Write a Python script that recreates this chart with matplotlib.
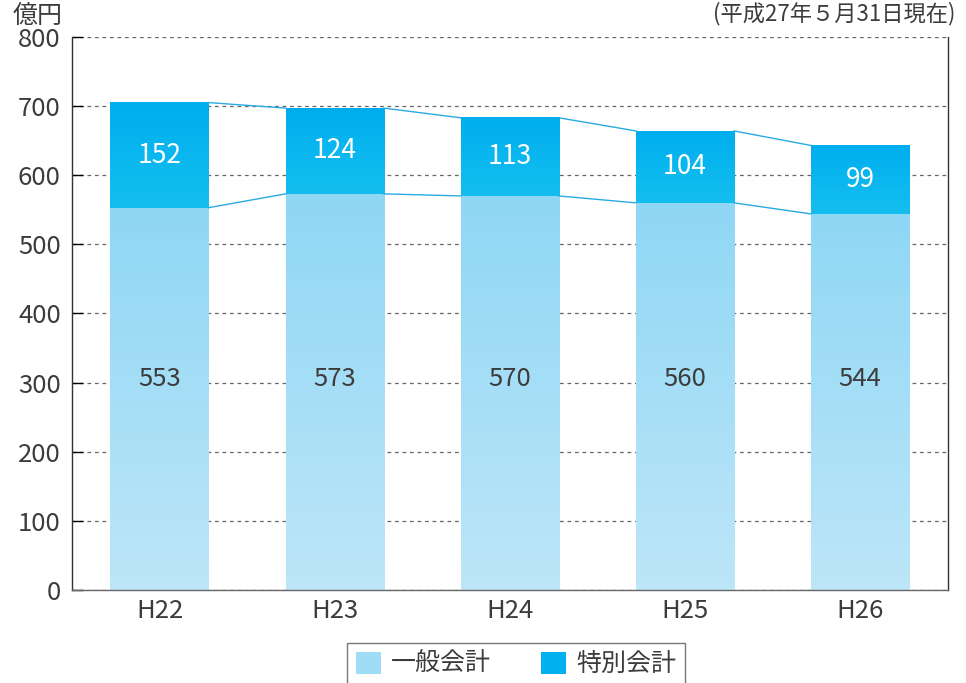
import numpy as np
import matplotlib.pyplot as plt
from matplotlib.colors import LinearSegmentedColormap
from matplotlib.patches import Patch

plt.rcParams['font.family'] = ['Noto Sans CJK JP', 'DejaVu Sans']

years = ['H22', 'H23', 'H24', 'H25', 'H26']
general = [553, 573, 570, 560, 544]
special = [152, 124, 113, 104, 99]

BAR_W = 0.56
TEXT = '#3c3c3c'
LINE = '#29abe2'

fig = plt.figure(figsize=(9.66, 6.83), dpi=100)
ax = fig.add_axes([0.0745, 0.136, 0.9065, 0.81])

x = np.arange(len(years))

# gradient fills for each segment
cm_gen = LinearSegmentedColormap.from_list('gen', ['#bde6f8', '#8fd7f5'])
cm_sp = LinearSegmentedColormap.from_list('sp', ['#14bfee', '#00aeef'])
grad = np.linspace(0, 1, 256).reshape(-1, 1)

for i, (g, s) in enumerate(zip(general, special)):
    x0, x1 = x[i] - BAR_W / 2, x[i] + BAR_W / 2
    ax.imshow(grad, cmap=cm_gen, extent=(x0, x1, 0, g), origin='lower',
              aspect='auto', zorder=2)
    ax.imshow(grad, cmap=cm_sp, extent=(x0, x1, g, g + s), origin='lower',
              aspect='auto', zorder=2)
    ax.text(x[i], 305, str(g), ha='center', va='center', fontsize=18.5,
            color=TEXT, zorder=3)
    ax.text(x[i], g + s / 2, str(s), ha='center', va='center', fontsize=19,
            color='white', zorder=3)

# connector lines between bars
totals = [g + s for g, s in zip(general, special)]
for i in range(len(years) - 1):
    xa, xb = x[i] + BAR_W / 2, x[i + 1] - BAR_W / 2
    ax.plot([xa, xb], [totals[i], totals[i + 1]], color=LINE, lw=1, zorder=2)
    ax.plot([xa, xb], [general[i], general[i + 1]], color=LINE, lw=1, zorder=2)

ax.set_xlim(-0.5, len(years) - 0.5)
ax.set_ylim(0, 800)

ax.set_yticks(range(0, 801, 100))
ax.set_xticks(x)
ax.set_xticklabels(years)
ax.tick_params(axis='y', direction='in', length=8, width=1, labelsize=18.5,
               labelcolor=TEXT, pad=8)
ax.tick_params(axis='x', length=0, labelsize=18.5, labelcolor=TEXT, pad=6)
ax.yaxis.grid(True, linestyle=(0, (3, 3)), color='#666666', lw=0.9)
ax.set_axisbelow(True)

for side in ['left', 'right', 'bottom']:
    ax.spines[side].set_color('#333333')
    ax.spines[side].set_linewidth(1)
ax.spines['bottom'].set_color('#666666')
ax.spines['top'].set_visible(False)

fig.text(0.013, 0.995, '億円', ha='left', va='top', fontsize=18, color=TEXT)
fig.text(0.989, 0.998, '(平成27年５月31日現在)', ha='right', va='top',
         fontsize=16, color=TEXT)

handles = [Patch(facecolor='#9fdcf6', edgecolor='none', label='一般会計'),
           Patch(facecolor='#00b0ef', edgecolor='none', label='特別会計')]
leg = fig.legend(handles=handles, loc='upper center', ncol=2,
                 bbox_to_anchor=(0.534, 0.059), fontsize=18, frameon=True,
                 fancybox=False, edgecolor='#555555', handlelength=1.0,
                 handleheight=1.0, handletextpad=0.4, columnspacing=2.0,
                 borderpad=0.35, borderaxespad=0)
leg.get_frame().set_linewidth(1)
for t in leg.get_texts():
    t.set_color(TEXT)

fig.savefig('out.png', dpi=100)
